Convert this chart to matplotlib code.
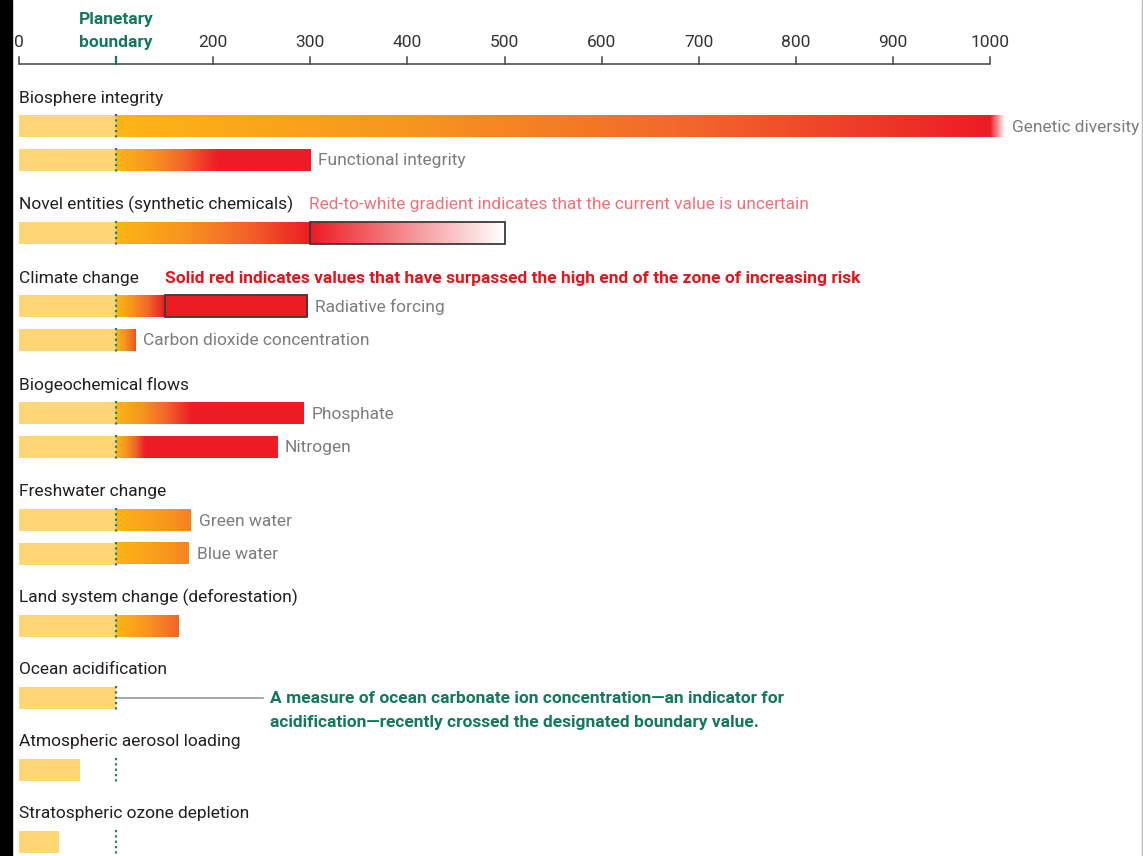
import matplotlib
matplotlib.use("Agg")
import matplotlib.pyplot as plt
import numpy as np
from matplotlib.colors import LinearSegmentedColormap, to_rgb
from matplotlib.patches import Rectangle

plt.rcParams['font.family'] = ['Liberation Sans Narrow', 'Roboto', 'DejaVu Sans']

# ---------------- data ----------------
tick_values = [0, 100, 200, 300, 400, 500, 600, 700, 800, 900, 1000]
boundary = 100

groups = ["Biosphere integrity", "Novel entities (synthetic chemicals)", "Climate change",
          "Biogeochemical flows", "Freshwater change", "Land system change (deforestation)",
          "Ocean acidification", "Atmospheric aerosol loading", "Stratospheric ozone depletion"]

bar_group = [0, 0, 1, 2, 2, 3, 3, 4, 4, 5, 6, 7, 8]
bar_labels = ["Genetic diversity", "Functional integrity", "", "Radiative forcing",
              "Carbon dioxide concentration", "Phosphate", "Nitrogen", "Green water",
              "Blue water", "", "", "", ""]
bar_values = [1000, 300, 300, 297, 120, 293, 266, 177, 175, 164, 100, 63, 41]
# value at which the gradient reaches full red (high end of zone of increasing risk)
risk_high = [1000, 205, 300, 150, 126, 178, 130, 260, 262, 195, 200, 200, 200]
# extra fade-out beyond the value (genetic diversity)
fade_extra = [15, 0, 0, 0, 0, 0, 0, 0, 0, 0, 0, 0, 0]

# uncertain range (red-to-white) for novel entities
uncertain_bar = 2
uncertain_range = (300, 500)
# surpassed range (solid red box) for radiative forcing
surpassed_bar = 3
surpassed_range = (150, 297)

note_uncertain = "Red-to-white gradient indicates that the current value is uncertain"
note_surpassed = "Solid red indicates values that have surpassed the high end of the zone of increasing risk"
note_ocean = ["A measure of ocean carbonate ion concentration\u2014an indicator for",
              "acidification\u2014recently crossed the designated boundary value."]

# ---------------- style ----------------
W, H = 1143, 856
px_per_unit = 0.971
x0_px = 19
YELLOW = "#FFD676"
GREEN = "#12795E"
RED = "#EC1C24"
GRAY_LBL = "#7c7c7c"
TXT = "#231f20"
cmap = LinearSegmentedColormap.from_list(
    "risk", ["#FDB515", "#F7961E", "#F2652A", "#EC1C24"])

fig = plt.figure(figsize=(W / 100, H / 100), dpi=100)
ax = fig.add_axes([0, 0, 1, 1])
ax.set_axis_off()

def px2x(p):
    return (p - x0_px) / px_per_unit

xl, xr = px2x(0), px2x(W)
FS = 12.5
bh = 22

# left black strip and right thin line
fig.patches.append(Rectangle((0, 0), 12 / W, 1, transform=fig.transFigure,
                             color="black", zorder=10))
fig.patches.append(Rectangle((1 - 1.5 / W, 0), 1.5 / W, 1, transform=fig.transFigure,
                             color="#bbbbbb", zorder=10))

# ---- top axis ----
axis_y = 64
ax.plot([0, 1000], [axis_y, axis_y], color="#444444", lw=1.1, solid_capstyle="butt")
for t in tick_values:
    c = GREEN if t == boundary else "#444444"
    ax.plot([t, t], [axis_y, axis_y - 7], color=c, lw=1.6 if t == boundary else 1.1)
    if t == boundary:
        ax.text(t, 42, "boundary", ha="center", va="center", fontsize=FS,
                fontweight="bold", color=GREEN)
        ax.text(t, 19, "Planetary", ha="center", va="center", fontsize=FS,
                fontweight="bold", color=GREEN)
    else:
        ax.text(t, 42, str(t), ha="center", va="center", fontsize=FS, color="#333333")

# ---- layout rows ----
header_y = {}
bar_y = []
y = 97
prev_group = None
for i, g in enumerate(bar_group):
    if g != prev_group:
        if prev_group is not None:
            y += 44 if g < 5 else 42.8
        header_y[g] = y
        y += 29.3
    else:
        y += 33.5
    bar_y.append(y)
    prev_group = g

for g, name in enumerate(groups):
    ax.text(0, header_y[g] + 1, name, ha="left", va="center", fontsize=FS, color=TXT)

def grad_image(x_a, x_b, yc, colors):
    arr = np.array(colors)[None, :, :]
    ax.imshow(arr, extent=[x_a, x_b, yc + bh / 2, yc - bh / 2], aspect="auto",
              interpolation="bilinear", zorder=2)

for i, v in enumerate(bar_values):
    yc = bar_y[i]
    base_end = min(v, boundary)
    ax.add_patch(Rectangle((0, yc - bh / 2), base_end, bh, color=YELLOW, lw=0, zorder=2))
    end_val = v
    if v > boundary:
        xs = np.linspace(boundary, v, 500)
        frac = np.clip((xs - boundary) / (risk_high[i] - boundary), 0, 1)
        cols = [cmap(f)[:3] for f in frac]
        grad_image(boundary, v, yc, cols)
    if fade_extra[i] > 0:
        xs = np.linspace(0, 1, 60)
        r = np.array(to_rgb(RED))
        cols = [tuple(r * (1 - f) + np.ones(3) * f) for f in xs]
        grad_image(v, v + fade_extra[i], yc, cols)
        end_val = v + fade_extra[i]
    if i == uncertain_bar:
        a, b = uncertain_range
        xs = np.linspace(0, 1, 200)
        r = np.array(to_rgb(RED))
        cols = [tuple(r * (1 - f) + np.ones(3) * f) for f in xs]
        grad_image(a, b, yc, cols)
        ax.add_patch(Rectangle((a, yc - bh / 2), b - a, bh, fill=False,
                               edgecolor="#3a3a3a", lw=1.3, zorder=4))
        end_val = b
    if i == surpassed_bar:
        a, b = surpassed_range
        ax.add_patch(Rectangle((a, yc - bh / 2), b - a, bh, facecolor=RED,
                               edgecolor="#3a3a3a", lw=1.3, zorder=4))
        end_val = max(end_val, b)
    # dotted boundary line
    ax.plot([boundary, boundary], [yc - bh / 2 - 1, yc + bh / 2 + 1], color="#1E7F72",
            lw=1.6, linestyle=(0, (1, 1.4)), zorder=5)
    if bar_labels[i]:
        ax.text(end_val + 8, yc + 1, bar_labels[i], ha="left", va="center",
                fontsize=FS, color=GRAY_LBL)

# ---- annotations ----
ax.text(px2x(309), header_y[1] + 1, note_uncertain, ha="left", va="center",
        fontsize=FS, color="#F0707A")
ax.text(px2x(165), header_y[2] + 1, note_surpassed, ha="left", va="center",
        fontsize=FS, color="#E3141E", fontweight="bold")
oy = bar_y[10]
ax.plot([boundary, px2x(263)], [oy, oy], color="#9a9a9a", lw=1.2, zorder=1)
for k, line in enumerate(note_ocean):
    ax.text(px2x(270), oy + 1 + 24 * k, line, ha="left", va="center", fontsize=FS,
            color=GREEN, fontweight="bold")

ax.set_xlim(xl, xr)
ax.set_ylim(H, 0)
fig.savefig("out.png", dpi=100)
